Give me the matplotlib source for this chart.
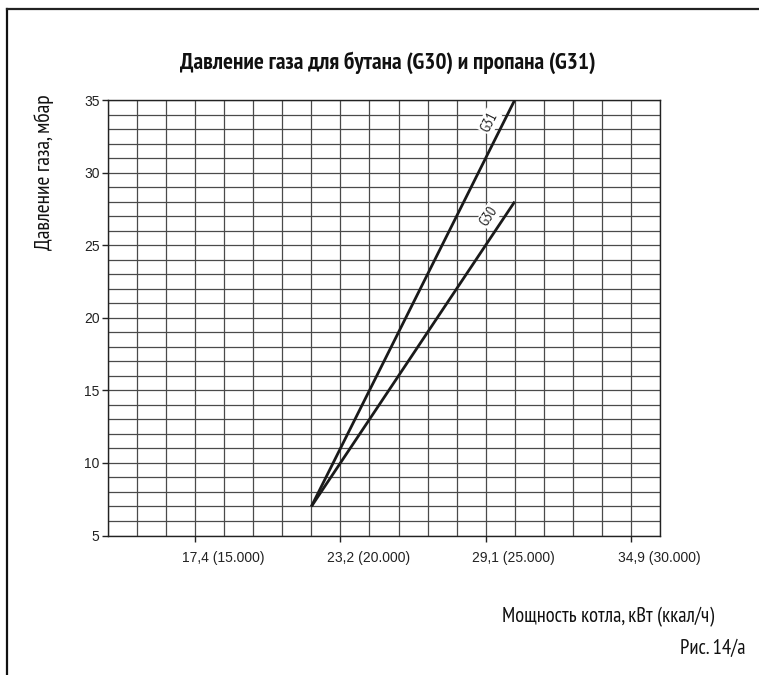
import matplotlib
matplotlib.use("Agg")
import matplotlib.pyplot as plt
from matplotlib.lines import Line2D
from matplotlib import font_manager as fm
import matplotlib.transforms as mtransforms
import numpy as np

plt.rcParams['font.family'] = ['Liberation Sans', 'DejaVu Sans']

# Data (x in kcal/h, y in mbar)
x_kcal = [19000, 26000]
g30_mbar = [7, 28]
g31_mbar = [7, 35]
xtick_vals = [15000, 20000, 25000, 30000]
xtick_labels = ["17,4 (15.000)", "23,2 (20.000)", "29,1 (25.000)", "34,9 (30.000)"]
ytick_vals = [5, 10, 15, 20, 25, 30, 35]

title = "Давление газа для бутана (G30) и пропана (G31)"
ylabel = "Давление газа, мбар"
xlabel = "Мощность котла, кВт (ккал/ч)"
fig_note = "Рис. 14/а"


def has_cyr(path):
    try:
        from matplotlib.ft2font import FT2Font
        return 0x0414 in FT2Font(path).get_charmap()
    except Exception:
        return False


def find_narrow(bold):
    prefs = ['Liberation Sans Narrow', 'Arial Narrow', 'Nimbus Sans Narrow',
             'PT Sans Narrow', 'Roboto Condensed', 'Fira Sans Condensed',
             'Open Sans Condensed', 'Noto Sans Condensed', 'IBM Plex Sans Condensed',
             'Encode Sans Condensed', 'Archivo Narrow', 'Ubuntu Condensed',
             'DejaVu Sans Condensed']
    target = 700 if bold else 400
    ents = [f for f in fm.fontManager.ttflist if f.style == 'normal']

    def w(f):
        try:
            return int(f.weight)
        except Exception:
            return 700 if 'bold' in str(f.weight) else 400

    for p in prefs:
        c = [f for f in ents if f.name == p and has_cyr(f.fname)]
        if c:
            c.sort(key=lambda f: abs(w(f) - target))
            return c[0].fname
    c = [f for f in ents if ('condensed' in str(f.stretch) or 'Narrow' in f.name
                             or 'Condensed' in f.name) and 'extra' not in str(f.stretch)
         and has_cyr(f.fname)]
    if c:
        c.sort(key=lambda f: abs(w(f) - target))
        return c[0].fname
    return None


reg_path = find_narrow(False)
bold_path = find_narrow(True)


def fp(path, bold=False):
    if path:
        return fm.FontProperties(fname=path)
    return fm.FontProperties(family='Liberation Sans', weight='bold' if bold else 'normal')


W, H = 759, 675
fig = plt.figure(figsize=(W / 100, H / 100), dpi=100)
ax = fig.add_axes([108 / W, 1 - 535.5 / H, 552 / W, 435.5 / H])

ax.set_xlim(12000, 31000)
ax.set_ylim(5, 35)

# grid
for gx in np.arange(12000, 31001, 1000):
    ax.axvline(gx, color='#4a4a4a', lw=0.9, zorder=1)
for gy in np.arange(5, 36, 1):
    ax.axhline(gy, color='#4a4a4a', lw=0.9, zorder=1)

ax.plot(x_kcal, g31_mbar, color='#1a1a1a', lw=2.0, zorder=3, solid_capstyle='butt')
ax.plot(x_kcal, g30_mbar, color='#1a1a1a', lw=2.0, zorder=3, solid_capstyle='butt')

lp = fp(reg_path)
lp.set_size(10.5)
ax.text(25120, 33.5, "G31", rotation=63, ha='center', va='center',
        fontproperties=lp, color='#222',
        bbox=dict(facecolor='white', edgecolor='none', pad=1.2), zorder=4)
ax.text(25120, 27.0, "G30", rotation=56, ha='center', va='center',
        fontproperties=lp, color='#222',
        bbox=dict(facecolor='white', edgecolor='none', pad=1.2), zorder=4)

ax.set_xticks(xtick_vals)
ax.set_xticklabels(xtick_labels)
ax.set_yticks(ytick_vals)
ax.tick_params(axis='both', direction='out', length=4.5, width=1, colors='#222',
               labelsize=10, labelcolor='#222')
ax.tick_params(axis='x', pad=7)
ax.tick_params(axis='y', pad=1.5)
for s in ax.spines.values():
    s.set_color('#222')
    s.set_linewidth(1.0)

renderer = fig.canvas.get_renderer()

# x tick labels: the kW number is centred on the tick, the rest runs to the right
for lab in ax.get_xticklabels():
    txt = lab.get_text()
    num = txt.split(' ')[0]
    tmp = fig.text(0, 0, num, fontsize=10)
    wpx = tmp.get_window_extent(renderer=renderer).width
    tmp.remove()
    lab.set_horizontalalignment('left')
    lab.set_transform(lab.get_transform() +
                      mtransforms.ScaledTranslation(-wpx / 2 / 100, 0, fig.dpi_scale_trans))


def fitted_text(x, y, s, target_px, path, bold=False, rot=0, **kw):
    prop = fp(path, bold)
    prop.set_size(12)
    t = fig.text(x / W, 1 - y / H, s, fontproperties=prop, rotation=rot, **kw)
    bb = t.get_window_extent(renderer=renderer)
    ext = bb.height if rot == 90 else bb.width
    prop2 = prop.copy()
    prop2.set_size(12 * target_px / ext)
    t.set_fontproperties(prop2)
    return t


fitted_text(388, 63, title, 416, bold_path, bold=True, ha='center', va='center', color='#111')
fitted_text(44, 172, ylabel, 156, reg_path, rot=90, ha='center', va='center', color='#111')
fitted_text(714, 617, xlabel, 211, reg_path, ha='right', va='center', color='#111')
fitted_text(746, 648, fig_note, 65, reg_path, ha='right', va='center', color='#111')

# page frame (left and top edges)
fig.add_artist(Line2D([6.5 / W, 6.5 / W], [0, 1 - 9 / H], transform=fig.transFigure,
                      color='#111', lw=1.6))
fig.add_artist(Line2D([6.5 / W, 1], [1 - 9 / H, 1 - 9 / H], transform=fig.transFigure,
                      color='#222', lw=1.6))

fig.savefig("out.png", dpi=100)
